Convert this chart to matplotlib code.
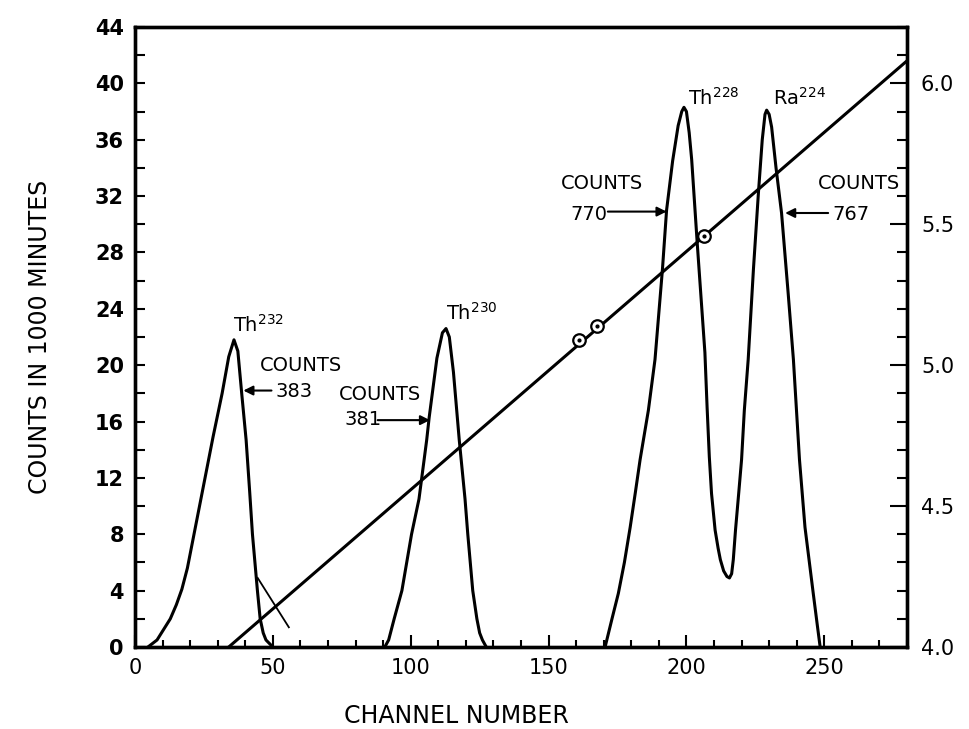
import numpy as np
import matplotlib
matplotlib.use('Agg')
import matplotlib.pyplot as plt
from matplotlib.ticker import MultipleLocator, FormatStrFormatter

plt.rcParams['font.family'] = ['DejaVu Sans']

# Th232 peak (channel, counts in 1000 minutes)
th232_ch = [4.7, 8, 12.8, 15, 17, 19, 21, 23, 25, 28.3, 31.6, 34, 35.9, 37.3, 38.7, 40.3,
            41.6, 42.6, 44.4, 45.4, 46.5, 47.5, 50]
th232_ct = [0, 0.5, 2, 3, 4.1, 5.6, 7.6, 9.6, 11.6, 14.9, 18, 20.6, 21.8, 21, 18, 14.7,
            11, 8, 4, 2, 1, 0.5, 0]

# Th230 peak
th230_ch = [90.6, 92, 94, 96.8, 100.3, 103, 105.8, 106.7, 109.5, 111.5, 112.8, 114, 115.5,
            117.6, 119.7, 120.7, 122.5, 124, 125, 126, 127.4]
th230_ct = [0, 0.5, 2, 4, 8, 10.5, 14.7, 16.3, 20.5, 22.3, 22.6, 22, 19.5,
            14.7, 10.5, 8, 4, 2, 1, 0.5, 0]

# Th228 + Ra224 doublet
dbl_ch = [170.5, 173, 175.3, 177.5, 179.6, 181.5, 183.2, 186.2, 188.6, 191.3, 192.8, 195,
          197, 198.3, 199.1, 200, 201, 201.9, 203.9, 206.7, 207.5, 208.3, 209.1, 210.4,
          211.5, 212.3, 213.5, 214.7, 215.6, 216.4, 217, 217.8, 219, 220, 221, 222.4,
          224.3, 226.1, 227.5, 228.5, 229.1, 230, 230.9, 232.5, 234.5, 236.9, 238.8,
          241, 243, 246, 247.5, 248.5]
dbl_ct = [0, 2, 3.8, 6, 8.5, 11, 13.3, 16.8, 20.4, 26.8, 31, 34.5,
          37, 38, 38.3, 38, 36.5, 34.6, 28.7, 20.9, 17, 13.5, 10.9, 8.3,
          7, 6.2, 5.4, 5.0, 4.9, 5.2, 6.2, 8.3, 11, 13.3, 16.8, 20.4,
          26.8, 32.2, 36, 37.8, 38.1, 37.8, 36.9, 34, 30.8, 25.1, 20.4,
          13.3, 8.5, 3.8, 1.5, 0]

# short tail line under Th232
tail_ch = [44.5, 55.8]
tail_ct = [4.9, 1.4]

# energy calibration (right axis, MeV)
cal_ch = [34, 280]
cal_e = [4.0, 6.08]
pt_ch = [161, 167.5, 206.5]
pt_e = [5.09, 5.14, 5.46]

fig = plt.figure(figsize=(9.69, 7.29), dpi=100)
ax = fig.add_axes([135 / 969, 1 - 647 / 729, 772 / 969, 620 / 729])
lw = 2.2

ax.plot(th232_ch, th232_ct, color='k', lw=lw)
ax.plot(th230_ch, th230_ct, color='k', lw=lw)
ax.plot(dbl_ch, dbl_ct, color='k', lw=lw)
ax.plot(tail_ch, tail_ct, color='k', lw=1.3)

ax.set_xlim(0, 280)
ax.set_ylim(0, 44)
ax.xaxis.set_major_locator(MultipleLocator(50))
ax.xaxis.set_minor_locator(MultipleLocator(10))
ax.yaxis.set_major_locator(MultipleLocator(4))
ax.yaxis.set_minor_locator(MultipleLocator(2))
ax.tick_params(axis='x', which='major', direction='in', length=9, width=1.5, pad=8, labelsize=15)
ax.tick_params(axis='x', which='minor', direction='in', length=5, width=1.5)
ax.tick_params(axis='y', which='both', direction='in', length=7, width=1.5, pad=8, labelsize=15)
for t in ax.get_yticklabels():
    t.set_fontweight('bold')
for s in ax.spines.values():
    s.set_linewidth(2.4)

ax2 = ax.twinx()
ax2.plot(cal_ch, cal_e, color='k', lw=lw)
ax2.plot(pt_ch, pt_e, 'o', ms=9, mfc='white', mec='k', mew=1.6)
ax2.plot(pt_ch, pt_e, 'o', ms=2, color='k')
ax2.set_ylim(4.0, 6.2)
ax2.yaxis.set_major_locator(MultipleLocator(0.5))
ax2.yaxis.set_minor_locator(MultipleLocator(0.1))
ax2.yaxis.set_major_formatter(FormatStrFormatter('%.1f'))
ax2.tick_params(axis='y', which='major', direction='in', length=12, width=1.5, pad=10, labelsize=15)
ax2.tick_params(axis='y', which='minor', direction='in', length=7, width=1.5)
for s in ax2.spines.values():
    s.set_linewidth(2.4)

# peak labels
fs = 14
ax.text(35.5, 22.4, 'Th$^{232}$', fontsize=fs, va='baseline')
ax.text(112.8, 23.2, 'Th$^{230}$', fontsize=fs, va='baseline')
ax.text(200.6, 38.5, 'Th$^{228}$', fontsize=fs, va='baseline')
ax.text(231.4, 38.5, 'Ra$^{224}$', fontsize=fs, va='baseline')

# counts annotations
arrow = dict(arrowstyle='-|>', color='k', lw=1.5, mutation_scale=14, shrinkA=0, shrinkB=0)
ax.text(45.3, 20.0, 'COUNTS', fontsize=fs, va='center')
ax.text(50.8, 18.1, '383', fontsize=fs, va='center')
ax.annotate('', xy=(39.3, 18.2), xytext=(49.5, 18.2), arrowprops=arrow)

ax.text(74, 17.9, 'COUNTS', fontsize=fs, va='center')
ax.text(76, 16.15, '381', fontsize=fs, va='center')
ax.annotate('', xy=(107, 16.1), xytext=(88, 16.1), arrowprops=arrow)

ax.text(154.5, 32.9, 'COUNTS', fontsize=fs, va='center')
ax.text(158, 30.7, '770', fontsize=fs, va='center')
ax.annotate('', xy=(192.8, 30.9), xytext=(171.5, 30.9), arrowprops=arrow)

ax.text(247.7, 32.9, 'COUNTS', fontsize=fs, va='center')
ax.text(253, 30.7, '767', fontsize=fs, va='center')
ax.annotate('', xy=(235.8, 30.8), xytext=(251.4, 30.8), arrowprops=arrow)

fig.text(456 / 969, 1 - 716 / 729, 'CHANNEL NUMBER', fontsize=17, ha='center', va='center')
fig.text(40 / 969, 1 - 337 / 729, 'COUNTS IN 1000 MINUTES', fontsize=17, rotation=90,
         ha='center', va='center')

fig.savefig('out.png', dpi=100)
